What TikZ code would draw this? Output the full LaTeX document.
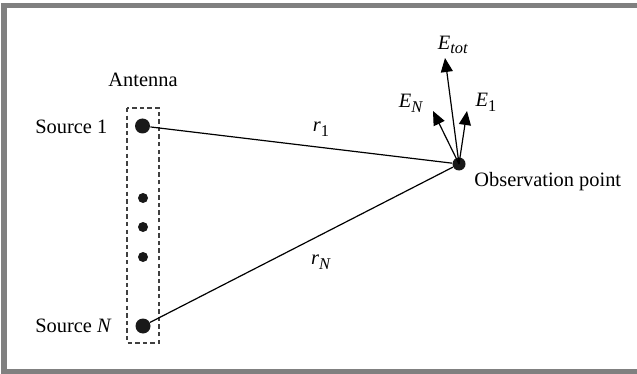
\documentclass[tikz,border=0pt]{standalone}
\usepackage{fontspec}
\setmainfont{Liberation Serif}
\usepackage{tikz}
\usetikzlibrary{arrows.meta}
\newcommand\lowsub[1]{\raisebox{-0.5ex}{\fontsize{8.2}{8.2}\selectfont #1}}

\begin{document}
\begin{tikzpicture}[x=0.5pt,y=-0.5pt,
  every node/.style={font=\fontsize{10.2}{12}\selectfont},
  bigdot/.style={circle,fill=black!90,inner sep=0pt,minimum size=7.5pt},
  smalldot/.style={circle,fill=black!90,inner sep=0pt,minimum size=5pt},
  field/.style={-{Triangle[length=7pt,width=6pt]},line width=0.6pt}]
\useasboundingbox (0,0) rectangle (637,374);
\draw[line width=2.8pt,black!50] (4,5.5) rectangle (660,371.5);
\draw[dashed,line width=0.6pt,black!75,dash pattern=on 2.2pt off 1.6pt] (127,108) rectangle (159,343);
\node[bigdot] (src1) at (142.5,126) {};
\node[smalldot] (d1) at (143,198) {};
\node[smalldot] (d2) at (143,227) {};
\node[smalldot] (d3) at (143,257) {};
\node[bigdot] (srcN) at (143,326) {};
\node[circle,fill=black!90,inner sep=0pt,minimum size=6.5pt] (obs) at (459,164) {};
\node (ant) at (143,80) {Antenna};
\node[anchor=west,inner sep=0pt] (lab1) at (35,127) {Source 1};
\node[anchor=west,inner sep=0pt] (labN) at (35,326) {Source \textit{N}};
\node[anchor=west,inner sep=0pt] (labobs) at (474,182) {Observation point};
\draw[line width=0.6pt] (src1) -- (obs);
\draw[line width=0.6pt] (srcN) -- (obs);
\node (r1) at (321,129) {\textit{r}\lowsub{1}};
\node (rN) at (321,262) {\textit{r}\lowsub{\textit{N}}};
\coordinate (tot) at (445,58);
\coordinate (eN) at (433,111);
\coordinate (e1) at (467,111);
\draw[field] (obs.center) -- (tot);
\draw[field] (obs.center) -- (eN);
\draw[field] (obs.center) -- (e1);
\node (ltot) at (453,45) {\textit{E}\lowsub{\textit{tot}}};
\node (lN) at (411,103) {\textit{E}\lowsub{\textit{N}}};
\node (l1) at (486,102) {\textit{E}\lowsub{1}};
\end{tikzpicture}
\end{document}
